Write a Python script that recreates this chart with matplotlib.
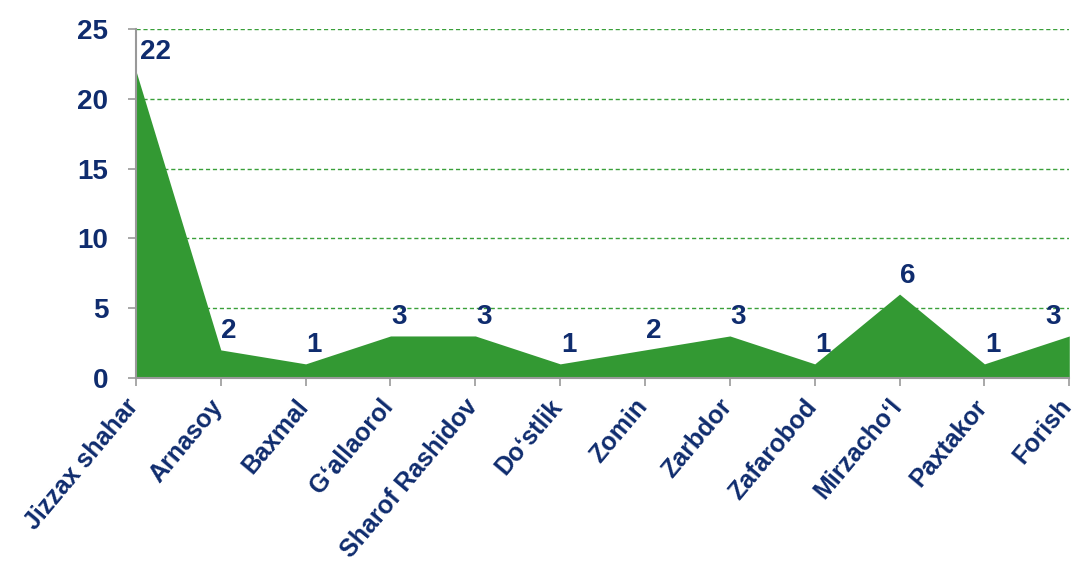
import matplotlib.pyplot as plt
import matplotlib.transforms as mtransforms
import numpy as np

# donnees
districts = ["Jizzax shahar", "Arnasoy", "Baxmal", "G\u2018allaorol", "Sharof Rashidov",
             "Do\u2018stlik", "Zomin", "Zarbdor", "Zafarobod", "Mirzacho\u2018l",
             "Paxtakor", "Forish"]
values = [22, 2, 1, 3, 3, 1, 2, 3, 1, 6, 1, 3]
yticks = [0, 5, 10, 15, 20, 25]

navy = "#0f2c6e"
green = "#339933"

plt.rcParams['font.family'] = ['Liberation Sans', 'DejaVu Sans']

fig = plt.figure(figsize=(10.79, 5.69), dpi=100)
ax = fig.add_axes([0.126, 0.336, 0.865, 0.613])

x = np.arange(len(districts))
ax.fill_between(x, values, 0, color=green, linewidth=0, zorder=2)

ax.set_xlim(0, len(districts) - 1)
ax.set_ylim(0, 25)
ax.set_yticks(yticks)
ax.set_xticks(x)
ax.set_xticklabels(districts, rotation=50, ha='right', rotation_mode='anchor',
                   fontsize=18, fontweight='bold', color=navy)
ax.tick_params(axis='x', pad=6)
ax.tick_params(axis='y', labelsize=20, labelcolor=navy, pad=14)
for lab in ax.get_yticklabels():
    lab.set_fontweight('bold')
ax.tick_params(axis='both', direction='out', length=6, color='#999999', width=1.2)

# decaler un peu les etiquettes vers la gauche
shift = mtransforms.ScaledTranslation(-8 / 72, 0, fig.dpi_scale_trans)
for lab in ax.get_xticklabels():
    lab.set_transform(lab.get_transform() + shift)

ax.yaxis.grid(True, linestyle=(0, (3, 2)), color='#3aa03a', linewidth=1)
ax.set_axisbelow(True)
for s in ['top', 'right']:
    ax.spines[s].set_visible(False)
for s in ['left', 'bottom']:
    ax.spines[s].set_color('#999999')
    ax.spines[s].set_linewidth(1.5)
    ax.spines[s].set_zorder(3)

# etiquettes de valeurs
for i, v in enumerate(values):
    dx = 14 if i == 0 else (-12 if i == len(values) - 1 else 6)
    ax.annotate(str(v), (i, v), xytext=(dx, 4), textcoords='offset points',
                ha='center', va='bottom', fontsize=20, fontweight='bold',
                color=navy, annotation_clip=False, zorder=4)

fig.savefig("out.png", dpi=100)
